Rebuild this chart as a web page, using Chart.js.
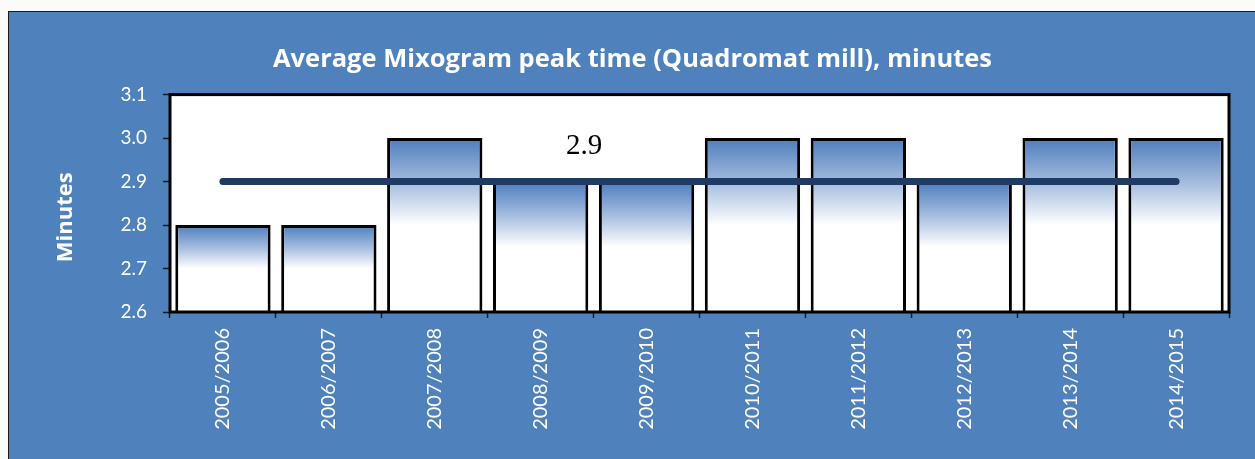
<!DOCTYPE html>
<html lang="en">
<head>
    <meta charset="UTF-8" />
    <title>Average Mixogram peak time</title>
    <script src="https://cdn.jsdelivr.net/npm/chart.js"></script>
    <style>
        body {
            margin: 0;
            background: #fbfbfb;
            width: 1255px;
            height: 459px;
            overflow: hidden;
            position: relative;
        }

        .frame {
            position: absolute;
            left: 8px;
            top: 11px;
            width: 1260px;
            height: 460px;
            background: #4f81bd;
            border: 1.5px solid #1a1a1a;
        }

        .chart-box {
            position: absolute;
            left: 0;
            top: 0;
            width: 1255px;
            height: 459px;
        }
    </style>
</head>
<body>

<div class="frame"></div>
<div class="chart-box">
    <canvas id="mixChart"></canvas>
</div>

<script>
    const seasons = ['2005/2006', '2006/2007', '2007/2008', '2008/2009', '2009/2010',
                     '2010/2011', '2011/2012', '2012/2013', '2013/2014', '2014/2015'];
    const peakTime = [2.8, 2.8, 3.0, 2.9, 2.9, 3.0, 3.0, 2.9, 3.0, 3.0];
    const averageLine = [2.9, 2.9, 2.9, 2.9, 2.9, 2.9, 2.9, 2.9, 2.9, 2.9];
    const averageLabel = '2.9';
    const yTicks = [2.6, 2.7, 2.8, 2.9, 3.0, 3.1];
    const yTitle = 'Minutes';

    // blue-to-white fill, fading out over the upper half of each bar
    function barGradient(ctx) {
        const chart = ctx.chart;
        if (ctx.type !== 'data' || !chart.chartArea) return '#9fb8dc';
        const y = chart.scales.y;
        const top = y.getPixelForValue(ctx.raw);
        const bottom = y.getPixelForValue(yTicks[0]);
        const mid = top + (bottom - top) * 0.5;
        const g = chart.ctx.createLinearGradient(0, top, 0, mid);
        g.addColorStop(0, '#4d7dbc');
        g.addColorStop(0.5, '#a2badd');
        g.addColorStop(1, '#ffffff');
        return g;
    }

    // white plot area with a black frame, value label of the average line, y title
    const plotFrame = {
        id: 'plotFrame',
        beforeDatasetsDraw(chart) {
            const {ctx, chartArea: a} = chart;
            ctx.save();
            ctx.fillStyle = '#ffffff';
            ctx.fillRect(a.left, a.top, a.right - a.left, a.bottom - a.top);
            ctx.restore();
        },
        afterDatasetsDraw(chart) {
            const {ctx, chartArea: a} = chart;
            ctx.save();
            ctx.strokeStyle = '#000000';
            ctx.lineWidth = 3;
            ctx.strokeRect(a.left, a.top, a.right - a.left, a.bottom - a.top);

            const x = chart.scales.x;
            const y = chart.scales.y;
            const step = x.getPixelForValue(1) - x.getPixelForValue(0);
            ctx.fillStyle = '#000000';
            ctx.font = '29px "Liberation Serif", serif';
            ctx.textAlign = 'center';
            ctx.textBaseline = 'alphabetic';
            ctx.fillText(averageLabel, x.getPixelForValue(3) + step * 0.41, y.getPixelForValue(averageLine[3]) - 28);

            // axis title, sitting a little below the middle of the plot like the original
            ctx.translate(y.left + 30, (a.top + a.bottom) / 2 + 14);
            ctx.rotate(-Math.PI / 2);
            ctx.fillStyle = '#ffffff';
            ctx.font = 'bold 22px "Open Sans", sans-serif';
            ctx.textBaseline = 'middle';
            ctx.fillText(yTitle, 0, 0);
            ctx.restore();
        }
    };

    const ctx = document.getElementById('mixChart').getContext('2d');

    new Chart(ctx, {
        data: {
            labels: seasons,
            datasets: [
                {
                    type: 'line',
                    data: averageLine,
                    borderColor: '#1f3a63',
                    borderWidth: 7,
                    borderCapStyle: 'round',
                    pointRadius: 0,
                    order: 0
                },
                {
                    type: 'bar',
                    data: peakTime,
                    backgroundColor: barGradient,
                    borderColor: '#000000',
                    borderWidth: 3,
                    borderSkipped: false,
                    barPercentage: 0.9,
                    categoryPercentage: 1.0,
                    order: 1
                }
            ]
        },
        plugins: [plotFrame],
        options: {
            responsive: true,
            maintainAspectRatio: false,
            animation: false,
            layout: {
                padding: { left: 36, right: 26, top: 0, bottom: 0 }
            },
            plugins: {
                legend: { display: false },
                tooltip: { enabled: false },
                title: {
                    display: true,
                    text: 'Average Mixogram peak time (Quadromat mill), minutes',
                    color: '#ffffff',
                    font: { family: 'Open Sans', size: 25.5, weight: 'bold', lineHeight: 1.2 },
                    padding: { top: 44, bottom: 20 }
                }
            },
            scales: {
                y: {
                    min: 2.6,
                    max: 3.1,
                    afterBuildTicks(scale) {
                        scale.ticks = yTicks.map(v => ({ value: v }));
                    },
                    afterFit(scale) {
                        scale.width = 134;
                    },
                    border: { display: false },
                    grid: {
                        drawOnChartArea: false,
                        drawTicks: true,
                        tickLength: 7,
                        tickColor: '#1a1a1a',
                        tickWidth: 1.5
                    },
                    ticks: {
                        color: '#ffffff',
                        padding: 16,
                        font: { family: 'Lato', size: 19 },
                        callback: v => Number(v).toFixed(1)
                    }
                },
                x: {
                    afterFit(scale) {
                        scale.height = 147;
                    },
                    border: { display: false },
                    grid: {
                        offset: true,
                        drawOnChartArea: false,
                        drawTicks: true,
                        tickLength: 6,
                        tickColor: '#1a1a1a',
                        tickWidth: 1.5
                    },
                    ticks: {
                        color: '#ffffff',
                        minRotation: 90,
                        maxRotation: 90,
                        padding: 10,
                        font: { family: 'Lato', size: 20 }
                    }
                }
            }
        }
    });
</script>

</body>
</html>
